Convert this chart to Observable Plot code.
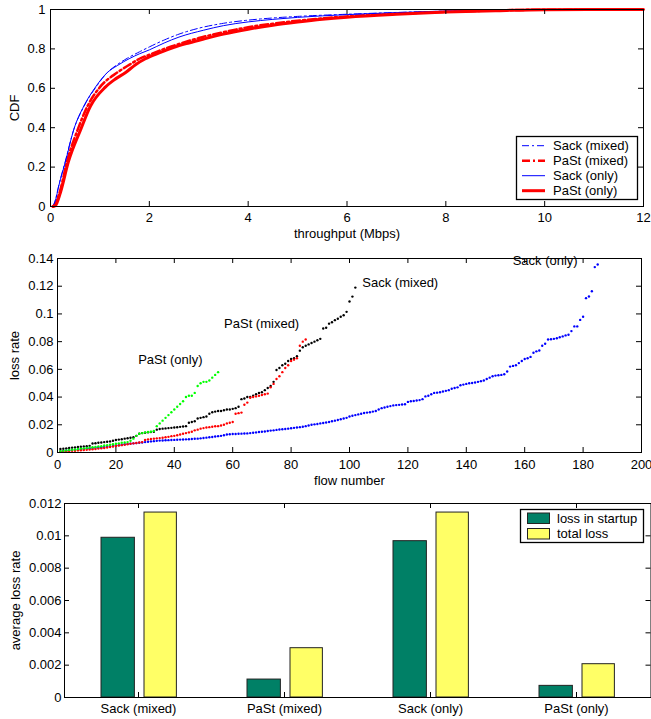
<!DOCTYPE html>
<html>
<head>
<meta charset="utf-8">
<script src="https://cdn.jsdelivr.net/npm/d3@7"></script>
<script src="https://cdn.jsdelivr.net/npm/@observablehq/plot@0.6"></script>
<style>
  html, body { margin: 0; padding: 0; background: white; }
  #wrap { position: relative; width: 651px; height: 719px; overflow: hidden; background: white; }
  .panel { position: absolute; left: 0; }
  #legend { position: absolute; left: 0; top: 0; pointer-events: none; }
</style>
</head>
<body>
<div id="wrap">
  <div class="panel" id="p1" style="top:0px"></div>
  <div class="panel" id="p2" style="top:245px"></div>
  <div class="panel" id="p3" style="top:490px"></div>
</div>
<script>
// ---------- Panel 1: CDF of throughput ----------
const cdfNames = ["Sack (mixed)", "PaSt (mixed)", "Sack (only)", "PaSt (only)"];
const sackMixedThr = [0.05, 0.1, 0.17, 0.3, 0.47, 0.68, 0.92, 1.15, 1.35, 1.55, 1.8, 2.0, 2.3, 2.6, 3.0, 3.5, 4.0, 4.5, 5.0, 6.0, 7.0, 8.0, 9.0, 10, 12];
const sackMixedCdf = [0, 0.035, 0.11, 0.23, 0.39, 0.51, 0.606, 0.68, 0.72, 0.752, 0.785, 0.81, 0.845, 0.875, 0.905, 0.93, 0.946, 0.957, 0.965, 0.976, 0.985, 0.992, 0.997, 1, 1];
const pastMixedThr = [0.05, 0.1, 0.2, 0.33, 0.55, 0.75, 1.0, 1.35, 1.6, 1.8, 2.05, 2.3, 2.6, 3.0, 3.5, 4.0, 4.5, 5.0, 5.5, 6.0, 7.0, 8.0, 9.0, 10, 12];
const pastMixedCdf = [0, 0.015, 0.085, 0.225, 0.39, 0.51, 0.606, 0.68, 0.72, 0.75, 0.775, 0.80, 0.825, 0.855, 0.885, 0.91, 0.928, 0.943, 0.955, 0.965, 0.978, 0.988, 0.995, 0.999, 1];
const sackOnlyThr = [0.05, 0.1, 0.17, 0.3, 0.47, 0.675, 0.91, 1.15, 1.35, 1.59, 1.8, 2.0, 2.3, 2.6, 3.1, 3.5, 4.0, 4.5, 5.0, 6.0, 7.0, 8.0, 9.0, 10, 12];
const sackOnlyCdf = [0, 0.03, 0.107, 0.225, 0.39, 0.51, 0.606, 0.68, 0.715, 0.75, 0.775, 0.795, 0.83, 0.86, 0.895, 0.918, 0.937, 0.95, 0.96, 0.974, 0.984, 0.992, 0.997, 1, 1];
const pastOnlyThr = [0.05, 0.1, 0.2, 0.36, 0.61, 0.81, 1.11, 1.3, 1.52, 1.72, 1.92, 2.2, 2.5, 2.8, 3.1, 3.5, 4.0, 4.5, 5.0, 5.5, 6.0, 7.0, 8.0, 9.0, 10, 12];
const pastOnlyCdf = [0, 0.005, 0.07, 0.225, 0.39, 0.51, 0.606, 0.645, 0.68, 0.72, 0.75, 0.78, 0.808, 0.83, 0.85, 0.875, 0.9, 0.92, 0.936, 0.95, 0.961, 0.976, 0.987, 0.994, 0.999, 1];
const cdfXTicks = [0, 2, 4, 6, 8, 10, 12];
const cdfYTicks = [0, 0.2, 0.4, 0.6, 0.8, 1];

// ---------- Panel 2: loss rate per flow (sorted) ----------
const lossNames = ["PaSt (only)", "PaSt (mixed)", "Sack (mixed)", "Sack (only)"];
const pastOnlyLoss = [
  0.001, 0.0012, 0.0015, 0.0018, 0.002, 0.0022, 0.0025, 0.0028, 0.003, 0.0032,
  0.0035, 0.0038, 0.004, 0.0043, 0.0046, 0.005, 0.0053, 0.0056, 0.006, 0.0063,
  0.0066, 0.007, 0.0072, 0.0075, 0.0085, 0.01, 0.012, 0.0135, 0.014, 0.0145,
  0.0148, 0.015, 0.0155, 0.019, 0.021, 0.023, 0.025, 0.027, 0.029, 0.031,
  0.033, 0.035, 0.037, 0.04, 0.041, 0.041, 0.043, 0.048, 0.05, 0.051,
  0.051, 0.052, 0.054, 0.056, 0.058];
const pastMixedLoss = [
  0.0005, 0.0007, 0.0009, 0.001, 0.0012, 0.0013, 0.0015, 0.0016, 0.0018, 0.002,
  0.0021, 0.0023, 0.0025, 0.0028, 0.003, 0.0033, 0.0036, 0.004, 0.0043, 0.0047,
  0.005, 0.0053, 0.0056, 0.006, 0.0063, 0.0066, 0.0069, 0.0072, 0.0075, 0.009,
  0.0095, 0.0097, 0.01, 0.0102, 0.0104, 0.0106, 0.011, 0.0113, 0.0118, 0.012,
  0.0125, 0.013, 0.0135, 0.014, 0.0145, 0.015, 0.016, 0.0165, 0.0172, 0.0176,
  0.018, 0.0183, 0.0186, 0.0189, 0.019, 0.0195, 0.02, 0.021, 0.0215, 0.022,
  0.028, 0.0284, 0.0288, 0.0345, 0.036, 0.0395, 0.04, 0.0405, 0.041, 0.0415,
  0.042, 0.0425, 0.047, 0.0495, 0.053, 0.055, 0.058, 0.061, 0.063, 0.066,
  0.067, 0.068, 0.077, 0.080, 0.0815];
const sackMixedLoss = [
  0.0025, 0.0027, 0.003, 0.0033, 0.0035, 0.0037, 0.004, 0.0042, 0.0044, 0.0046,
  0.0048, 0.0065, 0.0067, 0.007, 0.0072, 0.0075, 0.0078, 0.008, 0.0085, 0.009,
  0.0093, 0.0096, 0.01, 0.0103, 0.0106, 0.011, 0.012, 0.0135, 0.014, 0.0143,
  0.0146, 0.0148, 0.015, 0.0165, 0.017, 0.0172, 0.0174, 0.0176, 0.0178, 0.018,
  0.0182, 0.0185, 0.0188, 0.019, 0.0215, 0.022, 0.0225, 0.0245, 0.025, 0.0255,
  0.026, 0.028, 0.029, 0.0295, 0.03, 0.03, 0.0305, 0.031, 0.031, 0.0315,
  0.032, 0.033, 0.0385, 0.039, 0.04, 0.04, 0.041, 0.042, 0.043, 0.0435,
  0.045, 0.0465, 0.048, 0.051, 0.0595, 0.061, 0.063, 0.064, 0.066, 0.0675,
  0.068, 0.0695, 0.0735, 0.076, 0.077, 0.078, 0.079, 0.080, 0.081, 0.082,
  0.0895, 0.09, 0.093, 0.094, 0.0955, 0.0965, 0.098, 0.099, 0.1015, 0.109,
  0.1125, 0.119];
const sackOnlyLoss = [
  0.001, 0.0012, 0.0014, 0.0016, 0.0018, 0.002, 0.0022, 0.0024, 0.0026, 0.0028,
  0.003, 0.0032, 0.0034, 0.0036, 0.0038, 0.004, 0.0042, 0.0044, 0.0047, 0.005,
  0.0053, 0.0056, 0.006, 0.0062, 0.0064, 0.0066, 0.0068, 0.007, 0.0072, 0.0075,
  0.0078, 0.008, 0.0082, 0.0084, 0.0086, 0.0087, 0.0088, 0.0089, 0.009, 0.0091,
  0.0092, 0.0093, 0.0094, 0.0095, 0.0096, 0.0097, 0.0099, 0.01, 0.0102, 0.0105,
  0.0107, 0.011, 0.0112, 0.0115, 0.0118, 0.012, 0.0125, 0.013, 0.0132, 0.0133,
  0.0134, 0.0135, 0.0136, 0.0137, 0.0138, 0.014, 0.0142, 0.0145, 0.0148, 0.015,
  0.0152, 0.0155, 0.0158, 0.016, 0.0163, 0.0166, 0.0168, 0.017, 0.0172, 0.0175,
  0.0178, 0.018, 0.0183, 0.0186, 0.019, 0.0195, 0.02, 0.0203, 0.0206, 0.021,
  0.0213, 0.0216, 0.022, 0.0225, 0.023, 0.0235, 0.024, 0.0245, 0.025, 0.026,
  0.0265, 0.027, 0.0275, 0.028, 0.0285, 0.0288, 0.029, 0.0295, 0.03, 0.031,
  0.032, 0.0325, 0.033, 0.0335, 0.034, 0.0342, 0.0344, 0.0346, 0.0348, 0.0365,
  0.037, 0.0372, 0.0375, 0.0378, 0.0385, 0.0405, 0.041, 0.042, 0.043, 0.0432,
  0.0435, 0.044, 0.0445, 0.045, 0.046, 0.0465, 0.047, 0.0485, 0.049, 0.0495,
  0.05, 0.0502, 0.0505, 0.051, 0.0515, 0.052, 0.053, 0.054, 0.055, 0.0555,
  0.0558, 0.056, 0.0565, 0.0585, 0.062, 0.0625, 0.063, 0.0645, 0.066, 0.0675,
  0.068, 0.069, 0.072, 0.073, 0.0736, 0.077, 0.0785, 0.0815, 0.0817, 0.082,
  0.0825, 0.0832, 0.0838, 0.0845, 0.085, 0.0876, 0.091, 0.091, 0.0957, 0.098,
  0.1114, 0.1126, 0.1164, 0.1338, 0.1357];
const lossXTicks = [0, 20, 40, 60, 80, 100, 120, 140, 160, 180, 200];
const lossYTicks = [0, 0.02, 0.04, 0.06, 0.08, 0.1, 0.12, 0.14];

// ---------- Panel 3: average loss rate ----------
const barCategories = ["Sack (mixed)", "PaSt (mixed)", "Sack (only)", "PaSt (only)"];
const lossInStartup = [0.00988, 0.00111, 0.00967, 0.00072];
const totalLoss = [0.01144, 0.00305, 0.01144, 0.00206];
const barSeries = ["loss in startup", "total loss"];
const barYTicks = [0, 0.002, 0.004, 0.006, 0.008, 0.01, 0.012];

// ---------- helpers ----------
const FONT = '"Liberation Sans", Arial, Helvetica, sans-serif';
const fmt = d3.format("~g");
const baseStyle = {fontFamily: FONT, fontSize: "13px", color: "black", background: "white", overflow: "visible"};
const TL = 5; // inward tick length

function inwardTicks(xTicks, yTicks, frameW, frameH) {
  const m = [];
  if (xTicks) {
    m.push(Plot.tickX(xTicks, {x: d => d, insetTop: frameH - TL, stroke: "black"}));
    m.push(Plot.tickX(xTicks, {x: d => d, insetBottom: frameH - TL, stroke: "black"}));
  }
  if (yTicks) {
    m.push(Plot.tickY(yTicks, {y: d => d, insetRight: frameW - TL, stroke: "black"}));
    m.push(Plot.tickY(yTicks, {y: d => d, insetLeft: frameW - TL, stroke: "black"}));
  }
  return m;
}
const pairs = (xs, ys) => xs.map((x, i) => ({x, y: ys[i]}));

// ---------- Panel 1 ----------
{
  const W = 651, H = 245, ml = 50, mr = 8, mt = 9, mb = 39;
  const fw = W - ml - mr, fh = H - mt - mb;
  const p = Plot.plot({
    width: W, height: H, marginLeft: ml, marginRight: mr, marginTop: mt, marginBottom: mb,
    style: baseStyle,
    x: {domain: [0, 12], ticks: cdfXTicks, tickSize: 0, tickPadding: 6, tickFormat: fmt, label: null},
    y: {domain: [0, 1], ticks: cdfYTicks, tickSize: 0, tickPadding: 5, tickFormat: fmt, label: null},
    marks: [
      Plot.line(pairs(sackMixedThr, sackMixedCdf), {x: "x", y: "y", stroke: "#0000ff", strokeWidth: 1, strokeDasharray: "7,3,2,3", curve: "monotone-x"}),
      Plot.line(pairs(pastMixedThr, pastMixedCdf), {x: "x", y: "y", stroke: "#ff0000", strokeWidth: 2.5, strokeDasharray: "8,3,2,3", curve: "monotone-x"}),
      Plot.line(pairs(sackOnlyThr, sackOnlyCdf), {x: "x", y: "y", stroke: "#0000ff", strokeWidth: 1, curve: "monotone-x"}),
      Plot.line(pairs(pastOnlyThr, pastOnlyCdf), {x: "x", y: "y", stroke: "#ff0000", strokeWidth: 3, curve: "monotone-x"}),
      ...inwardTicks(cdfXTicks, cdfYTicks, fw, fh),
      Plot.frame({stroke: "black", strokeWidth: 1}),
      Plot.text(["throughput (Mbps)"], {text: d => d, frameAnchor: "bottom", lineAnchor: "middle", dy: 27}),
      Plot.text(["CDF"], {text: d => d, frameAnchor: "left", rotate: -90, textAnchor: "middle", lineAnchor: "middle", dx: -36})
    ]
  });
  document.getElementById("p1").appendChild(p);
}

// ---------- Panel 2 ----------
{
  const W = 651, H = 245, ml = 57, mr = 10, mt = 13, mb = 38;
  const fw = W - ml - mr, fh = H - mt - mb;
  const pts = arr => arr.map((v, i) => ({flow: i + 1, loss: v}));
  const last = arr => [{flow: arr.length, loss: arr[arr.length - 1]}];
  const p = Plot.plot({
    width: W, height: H, marginLeft: ml, marginRight: mr, marginTop: mt, marginBottom: mb,
    style: baseStyle,
    x: {domain: [0, 200], ticks: lossXTicks, tickSize: 0, tickPadding: 7, tickFormat: fmt, label: null},
    y: {domain: [0, 0.14], ticks: lossYTicks, tickSize: 0, tickPadding: 4, tickFormat: fmt, label: null},
    marks: [
      Plot.dot(pts(sackOnlyLoss), {x: "flow", y: "loss", r: 1.2, fill: "#0000ff"}),
      Plot.dot(pts(sackMixedLoss), {x: "flow", y: "loss", r: 1.2, fill: "#000000"}),
      Plot.dot(pts(pastMixedLoss), {x: "flow", y: "loss", r: 1.2, fill: "#ff0000"}),
      Plot.dot(pts(pastOnlyLoss), {x: "flow", y: "loss", r: 1.2, fill: "#00ff00"}),
      ...inwardTicks(lossXTicks, lossYTicks, fw, fh),
      Plot.frame({stroke: "black", strokeWidth: 1}),
      Plot.text(last(pastOnlyLoss), {x: "flow", y: "loss", text: () => lossNames[0], textAnchor: "end", dx: -15.6, dy: -12.6}),
      Plot.text(last(pastMixedLoss), {x: "flow", y: "loss", text: () => lossNames[1], textAnchor: "end", dx: -6.5, dy: -15.6}),
      Plot.text(last(sackMixedLoss), {x: "flow", y: "loss", text: () => lossNames[2], textAnchor: "start", dx: 7, dy: -5}),
      Plot.text(last(sackOnlyLoss), {x: "flow", y: "loss", text: () => lossNames[3], textAnchor: "end", dx: -20, dy: -4}),
      Plot.text(["flow number"], {text: d => d, frameAnchor: "bottom", lineAnchor: "middle", dy: 28}),
      Plot.text(["loss rate"], {text: d => d, frameAnchor: "left", rotate: -90, textAnchor: "middle", lineAnchor: "middle", dx: -43})
    ]
  });
  document.getElementById("p2").appendChild(p);
}

// ---------- Panel 3 ----------
{
  const W = 651, H = 229, ml = 64, mr = 0.5, mt = 13, mb = 22;
  const fw = W - ml - mr, fh = H - mt - mb;
  const bw = fw / barCategories.length;
  const startRows = barCategories.map((c, i) => ({cat: c, v: lossInStartup[i]}));
  const totalRows = barCategories.map((c, i) => ({cat: c, v: totalLoss[i]}));
  const p = Plot.plot({
    width: W, height: H, marginLeft: ml, marginRight: mr, marginTop: mt, marginBottom: mb,
    style: baseStyle,
    x: {domain: barCategories, padding: 0, tickSize: 0, tickPadding: 6, label: null},
    y: {domain: [0, 0.012], ticks: barYTicks, tickSize: 0, tickPadding: 3, tickFormat: fmt, label: null},
    marks: [
      Plot.barY(startRows, {x: "cat", y: "v", fill: "#008066", stroke: "#222", strokeWidth: 1, insetLeft: 36, insetRight: bw - 70}),
      Plot.barY(totalRows, {x: "cat", y: "v", fill: "#ffff66", stroke: "#222", strokeWidth: 1, insetLeft: 79, insetRight: bw - 112}),
      Plot.tickX(barCategories, {x: d => d, insetTop: fh - TL, stroke: "black"}),
      Plot.tickX(barCategories, {x: d => d, insetBottom: fh - TL, stroke: "black"}),
      ...inwardTicks(null, barYTicks, fw, fh),
      Plot.frame({stroke: "black", strokeWidth: 1}),
      Plot.text(["average loss rate"], {text: d => d, frameAnchor: "left", rotate: -90, textAnchor: "middle", lineAnchor: "middle", dx: -49})
    ]
  });
  document.getElementById("p3").appendChild(p);
}

// ---------- Legends (overlay) ----------
{
  const svg = d3.select("#wrap").append("svg").attr("id", "legend")
    .attr("width", 651).attr("height", 719)
    .style("font-family", FONT).style("font-size", "13px");
  // legend for panel 1
  const g1 = svg.append("g");
  g1.append("rect").attr("x", 516.5).attr("y", 136.5).attr("width", 121).attr("height", 63)
    .attr("fill", "white").attr("stroke", "black").attr("stroke-width", 1.3);
  const lstyles = [
    {stroke: "#0000ff", w: 1, dash: "7,3,2,3"},
    {stroke: "#ff0000", w: 2.5, dash: "8,3,2,3"},
    {stroke: "#0000ff", w: 1, dash: null},
    {stroke: "#ff0000", w: 3, dash: null}
  ];
  cdfNames.forEach((name, i) => {
    const y = 145.7 + i * 15;
    g1.append("line").attr("x1", 522).attr("x2", 545).attr("y1", y).attr("y2", y)
      .attr("stroke", lstyles[i].stroke).attr("stroke-width", lstyles[i].w)
      .attr("stroke-dasharray", lstyles[i].dash);
    g1.append("text").attr("x", 553).attr("y", y).attr("dy", "0.35em").text(name);
  });
  // legend for panel 3
  const g3 = svg.append("g");
  g3.append("rect").attr("x", 520.5).attr("y", 509.5).attr("width", 123).attr("height", 33)
    .attr("fill", "white").attr("stroke", "black").attr("stroke-width", 1.3);
  const fills = ["#008066", "#ffff66"];
  barSeries.forEach((name, i) => {
    const y = 518 + i * 15.5;
    g3.append("rect").attr("x", 527.5).attr("y", y - 5).attr("width", 22).attr("height", 10.5)
      .attr("fill", fills[i]).attr("stroke", "#222").attr("stroke-width", 1);
    g3.append("text").attr("x", 557).attr("y", y).attr("dy", "0.35em").text(name);
  });
}
</script>
</body>
</html>
